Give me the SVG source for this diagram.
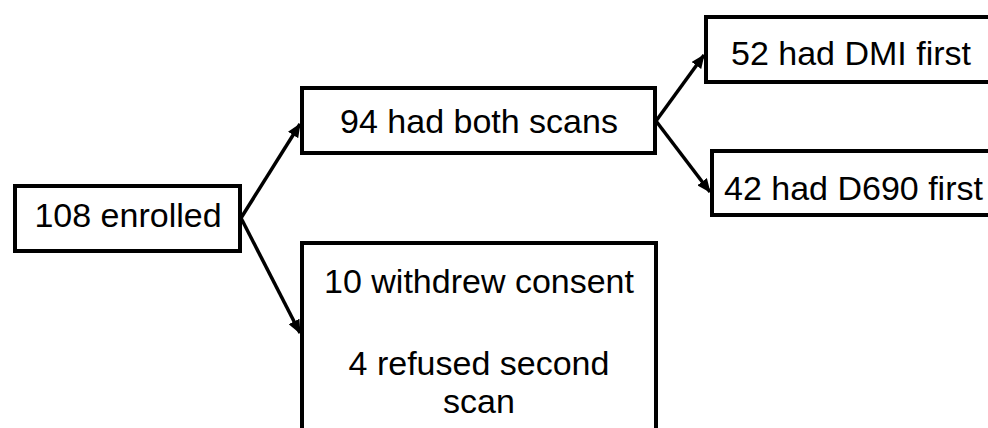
<svg xmlns="http://www.w3.org/2000/svg" width="988" height="428" viewBox="0 0 988 428">
  <style>
    .box { fill: #ffffff; stroke: #000000; stroke-width: 4; }
    .lbl { font-family: "Liberation Sans", Arial, sans-serif; font-size: 34px; fill: #000000; text-anchor: middle; }
    .lbl-start { text-anchor: start; }
    .edge { stroke: #000000; stroke-width: 3.5; fill: none; marker-end: url(#arrow); }
  </style>
  <defs>
    <marker id="arrow" markerUnits="userSpaceOnUse" markerWidth="14" markerHeight="12" viewBox="0 0 14 12" refX="13" refY="6" orient="auto">
      <path d="M0,0 L14,6 L0,12 Z" fill="#000000"/>
    </marker>
  </defs>
  <rect width="988" height="428" fill="#ffffff"/>

  <g id="connectors">
    <line class="edge" x1="241" y1="218" x2="300" y2="124"/>
    <line class="edge" x1="241" y1="218" x2="300" y2="333"/>
    <line class="edge" x1="656" y1="121" x2="704" y2="55"/>
    <line class="edge" x1="656" y1="121" x2="710" y2="192"/>
  </g>

  <g id="enrolled">
    <rect class="box" x="15" y="186" width="225" height="65"/>
    <text class="lbl" x="128" y="227">108 enrolled</text>
  </g>

  <g id="both-scans">
    <rect class="box" x="302" y="88" width="353" height="65"/>
    <text class="lbl" x="479" y="133">94 had both scans</text>
  </g>

  <g id="dmi-first">
    <rect class="box" x="706" y="17" width="300" height="65"/>
    <text class="lbl lbl-start" x="731" y="65">52 had DMI first</text>
  </g>

  <g id="d690-first">
    <rect class="box" x="712" y="151" width="300" height="64"/>
    <text class="lbl lbl-start" x="724" y="200">42 had D690 first</text>
  </g>

  <g id="excluded">
    <rect class="box" x="302" y="243" width="354" height="200"/>
    <text class="lbl" x="479" y="293">10 withdrew consent</text>
    <text class="lbl" x="479" y="375">4 refused second</text>
    <text class="lbl" x="479" y="413">scan</text>
  </g>
</svg>
